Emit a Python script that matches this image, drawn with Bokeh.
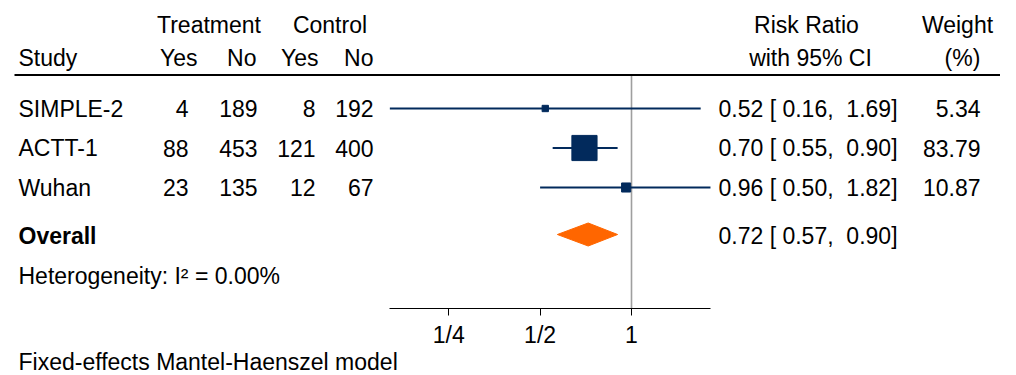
import numpy as np
from bokeh.plotting import figure
from bokeh.models import Range1d, LinearAxis, FixedTicker, ColumnDataSource
from bokeh.core.properties import value
from bokeh.embed import file_html
from bokeh.resources import INLINE

# ---------------- data ----------------
studies = ["SIMPLE-2", "ACTT-1", "Wuhan"]
trt_yes = [4, 88, 23]
trt_no = [189, 453, 135]
ctl_yes = [8, 121, 12]
ctl_no = [192, 400, 67]
rr = [0.52, 0.70, 0.96]
ci_lo = [0.16, 0.55, 0.50]
ci_hi = [1.69, 0.90, 1.82]
weight = [5.34, 83.79, 10.87]
overall_rr = 0.72
overall_lo = 0.57
overall_hi = 0.90
i_squared = 0.00
tick_values = [0.25, 0.5, 1.0]
tick_labels = ["1/4", "1/2", "1"]
footnote = "Fixed-effects Mantel-Haenszel model"

# ---------------- layout constants (pixels) ----------------
FONT = value("Liberation Sans")
FS = "23px"
W, H = 1000, 375
X_ONE = 631.0      # x of RR = 1
PPD = 91.4         # pixels per doubling
ROW_Y = [108, 147.5, 187]
OVERALL_Y = 235.5
DIAMOND_Y = 234.0
DIAMOND_H = 11.5
HET_Y = 275
HDR1_Y = 24
HDR2_Y = 57
RULE_Y = 74.5
AXIS_Y = 308
FOOT_Y = 361
NAVY = "#022a5c"
ORANGE = "#ff6600"
NB = "\u00a0"

p = figure(width=W, height=H,
           x_range=Range1d(0, W), y_range=Range1d(H, 0),
           x_axis_type=None, y_axis_type=None,
           toolbar_location=None, output_backend="svg",
           min_border=0, outline_line_color=None,
           background_fill_color="white", border_fill_color="white")
p.extra_x_ranges = {"rr": Range1d((0 - X_ONE) / PPD, (W - X_ONE) / PPD)}


def txt(xs, ys, texts, align, bold=False):
    src = ColumnDataSource(dict(x=xs, y=ys, t=texts))
    p.text(x="x", y="y", text="t", source=src, text_align=align,
           text_baseline="middle", text_font=FONT, text_font_size=FS,
           text_color="black", text_font_style="bold" if bold else "normal")


def ci_text(r, lo, hi):
    return f"{r:4.2f} [{lo:5.2f}, {hi:5.2f}]".replace("  ", " " + NB).replace("[ ", "[" + NB)


# headers
txt([208.5, 329.5], [HDR1_Y] * 2, ["Treatment", "Control"], "center")
txt([18], [HDR2_Y], ["Study"], "left")
txt([197, 256, 318, 373], [HDR2_Y] * 4, ["Yes", "No", "Yes", "No"], "right")
txt([806, 957], [HDR1_Y] * 2, ["Risk Ratio", "Weight"], "center")
txt([810, 962], [HDR2_Y] * 2, ["with 95% CI", "(%)"], "center")
p.segment(x0=[14], x1=[1002], y0=[RULE_Y], y1=[RULE_Y], line_color="black", line_width=2)

# study rows
txt([18] * 3, ROW_Y, studies, "left")
txt([188] * 3, ROW_Y, [str(v) for v in trt_yes], "right")
txt([257] * 3, ROW_Y, [str(v) for v in trt_no], "right")
txt([315] * 3, ROW_Y, [str(v) for v in ctl_yes], "right")
txt([373] * 3, ROW_Y, [str(v) for v in ctl_no], "right")
txt([718] * 3, ROW_Y, [ci_text(r, lo, hi) for r, lo, hi in zip(rr, ci_lo, ci_hi)], "left")
txt([980] * 3, ROW_Y, [f"{w:.2f}" for w in weight], "right")

# overall
txt([18], [OVERALL_Y], ["Overall"], "left", bold=True)
txt([718], [OVERALL_Y], [ci_text(overall_rr, overall_lo, overall_hi)], "left")
txt([18], [HET_Y], [f"Heterogeneity: I\u00b2 = {i_squared:.2f}%"], "left")
txt([18], [FOOT_Y], [footnote], "left")

# null line
p.segment(x0=[0], x1=[0], y0=[RULE_Y + 1], y1=[AXIS_Y], x_range_name="rr",
          line_color="#9f9f9f", line_width=1.6)

# CI lines and squares
p.segment(x0=np.log2(ci_lo), x1=np.log2(ci_hi), y0=ROW_Y, y1=ROW_Y, x_range_name="rr",
          line_color=NAVY, line_width=2)
p.scatter(x=np.log2(rr), y=ROW_Y, marker="square", size=2.75 * np.sqrt(weight),
          x_range_name="rr", fill_color=NAVY, line_color=NAVY, line_width=1)

# overall diamond
dx = np.log2([overall_lo, overall_rr, overall_hi, overall_rr])
dy = [DIAMOND_Y, DIAMOND_Y - DIAMOND_H, DIAMOND_Y, DIAMOND_Y + DIAMOND_H]
p.patch(x=dx, y=dy, x_range_name="rr", fill_color=ORANGE, line_color=ORANGE, line_width=1)

# x axis (drawn inside the frame at a fixed location)
ticks = [float(v) for v in np.log2(tick_values)]
ax = LinearAxis(x_range_name="rr", fixed_location=AXIS_Y,
                ticker=FixedTicker(ticks=ticks, minor_ticks=[]),
                major_label_overrides={t: l for t, l in zip(ticks, tick_labels)},
                bounds=(float(np.log2(min(ci_lo))), float(np.log2(max(ci_hi)))),
                axis_line_color="black", axis_line_width=1,
                major_tick_line_color="black", major_tick_line_width=1,
                major_tick_out=7, major_tick_in=0,
                major_label_standoff=6,
                major_label_text_font="Liberation Sans",
                major_label_text_font_size=FS,
                major_label_text_color="black")
p.add_layout(ax, "below")

open("out.html", "w").write(file_html(p, INLINE))
